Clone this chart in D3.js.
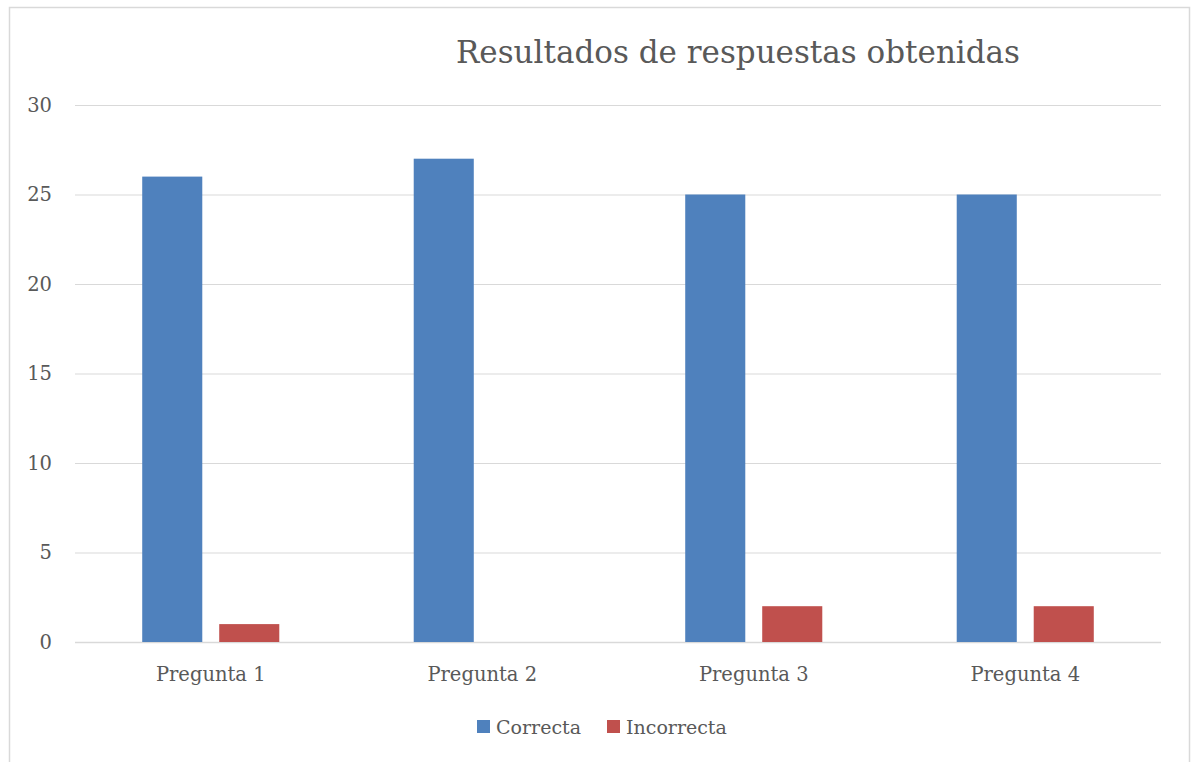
<!DOCTYPE html>
<html>
<head>
<meta charset="utf-8">
<script src="https://cdn.jsdelivr.net/npm/d3@7"></script>
<style>
  body { margin: 0; background: #fff; }
  text { font-family: "DejaVu Serif", serif; fill: #595959; }
</style>
</head>
<body>
<svg id="chart" width="1192" height="762"></svg>
<script>
// data
var categories = ['Pregunta 1', 'Pregunta 2', 'Pregunta 3', 'Pregunta 4'];
var seriesNames = ['Correcta', 'Incorrecta'];
var correcta = [26, 27, 25, 25];
var incorrecta = [1, 0, 2, 2];
var yTicks = [0, 5, 10, 15, 20, 25, 30];
var colors = ['#4f81bd', '#c0504d'];

var svg = d3.select('#chart');

// outer frame (bottom edge runs off the picture)
svg.append('rect')
    .attr('x', 9.5).attr('y', 7.5)
    .attr('width', 1180).attr('height', 800)
    .attr('fill', 'none')
    .attr('stroke', '#d9d9d9')
    .attr('stroke-width', 1.5);

// plot area (note: "top" clashes with window.top)
var plot = {left: 75, right: 1161, top: 105, bottom: 642};

var x = d3.scaleBand().domain(categories).range([plot.left, plot.right]);
var xInner = d3.scaleBand().domain(seriesNames)
    .range([0, x.bandwidth()])
    .paddingInner(0.22)
    .paddingOuter(0.873);
var y = d3.scaleLinear().domain([0, 30]).range([plot.bottom, plot.top]);

// gridlines
svg.append('g').selectAll('line')
    .data(yTicks)
    .join('line')
    .attr('x1', plot.left).attr('x2', plot.right)
    .attr('y1', function(d){ return y(d) + 0.5; })
    .attr('y2', function(d){ return y(d) + 0.5; })
    .attr('stroke', '#d9d9d9')
    .attr('stroke-width', function(d){ return d === 0 ? 1.5 : 1; });

// y axis labels
svg.append('g').selectAll('text')
    .data(yTicks)
    .join('text')
    .attr('x', 52)
    .attr('y', function(d){ return y(d); })
    .attr('dy', '0.35em')
    .attr('text-anchor', 'end')
    .style('font-size', '19.5px')
    .text(function(d){ return d; });

// bars
var rows = categories.map(function(c, i){
    return {cat: c, vals: [correcta[i], incorrecta[i]]};
});
var groups = svg.append('g').selectAll('g')
    .data(rows)
    .join('g')
    .attr('transform', function(d){ return 'translate(' + x(d.cat) + ',0)'; });
groups.selectAll('rect')
    .data(function(d){ return d.vals.map(function(v, j){ return {s: seriesNames[j], v: v, j: j}; }); })
    .join('rect')
    .attr('x', function(d){ return xInner(d.s); })
    .attr('width', xInner.bandwidth())
    .attr('y', function(d){ return y(d.v); })
    .attr('height', function(d){ return y(0) - y(d.v); })
    .attr('fill', function(d){ return colors[d.j]; });

// category labels
svg.append('g').selectAll('text')
    .data(categories)
    .join('text')
    .attr('x', function(d){ return x(d) + x.bandwidth() / 2; })
    .attr('y', 681)
    .attr('text-anchor', 'middle')
    .style('font-size', '19.5px')
    .text(function(d){ return d; });

// title
svg.append('text')
    .attr('x', 738)
    .attr('y', 63)
    .attr('text-anchor', 'middle')
    .style('font-size', '31px')
    .text('Resultados de respuestas obtenidas');

// legend
var legendX = [477, 607];
var legend = svg.append('g').selectAll('g')
    .data(seriesNames)
    .join('g')
    .attr('transform', function(d, i){ return 'translate(' + legendX[i] + ',720)'; });
legend.append('rect')
    .attr('width', 13).attr('height', 13)
    .attr('fill', function(d, i){ return colors[i]; });
legend.append('text')
    .attr('x', 19)
    .attr('y', 14)
    .style('font-size', '19px')
    .text(function(d){ return d; });
</script>
</body>
</html>
